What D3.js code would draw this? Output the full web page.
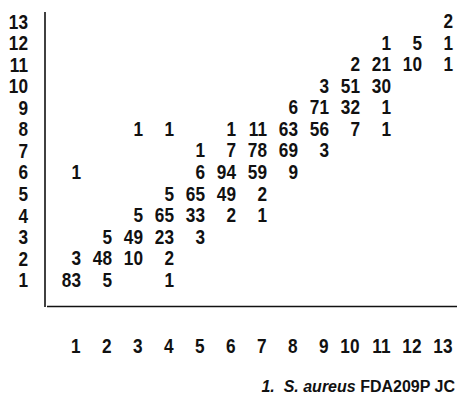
<!DOCTYPE html>
<html>
<head>
<meta charset="utf-8">
<script src="https://cdn.jsdelivr.net/npm/d3@7"></script>
<style>
  html, body { margin: 0; padding: 0; background: #fff; }
  svg { display: block; }
  .num { font-family: "Liberation Sans", Arial, sans-serif; font-weight: bold; font-size: 20.5px; fill: #111; }
  .title { font-family: "Liberation Sans", Arial, sans-serif; font-weight: bold; font-size: 16px; fill: #111; }
</style>
</head>
<body>
<svg id="chart" width="458" height="401"></svg>
<script>
// Scale positions (x) and rows (y), both numbered 1..13
const xTicks = [1, 2, 3, 4, 5, 6, 7, 8, 9, 10, 11, 12, 13];
const yTicks = [1, 2, 3, 4, 5, 6, 7, 8, 9, 10, 11, 12, 13];

// Counts per cell, one array per row: [x, count]
const row1  = [[1, 83], [2, 5], [4, 1]];
const row2  = [[1, 3], [2, 48], [3, 10], [4, 2]];
const row3  = [[2, 5], [3, 49], [4, 23], [5, 3]];
const row4  = [[3, 5], [4, 65], [5, 33], [6, 2], [7, 1]];
const row5  = [[4, 5], [5, 65], [6, 49], [7, 2]];
const row6  = [[1, 1], [5, 6], [6, 94], [7, 59], [8, 9]];
const row7  = [[5, 1], [6, 7], [7, 78], [8, 69], [9, 3]];
const row8  = [[3, 1], [4, 1], [6, 1], [7, 11], [8, 63], [9, 56], [10, 7], [11, 1]];
const row9  = [[8, 6], [9, 71], [10, 32], [11, 1]];
const row10 = [[9, 3], [10, 51], [11, 30]];
const row11 = [[10, 2], [11, 21], [12, 10], [13, 1]];
const row12 = [[11, 1], [12, 5], [13, 1]];
const row13 = [[13, 2]];

const rows = [row1, row2, row3, row4, row5, row6, row7, row8, row9, row10, row11, row12, row13];

const titleParts = [
  { text: "1.\u00a0 S. aureus", italic: true },
  { text: " FDA209P JC", italic: false }
];

const svg = d3.select("#chart");
const squeeze = 0.84; // narrow digit face

// Right edge of each column's numbers, and vertical centre of each row
const x = d3.scaleLinear().domain([1, 13]).range([81, 453]);
const y = d3.scaleLinear().domain([1, 13]).range([279.5, 20.7]);

const cells = rows.flatMap((r, i) => r.map(([cx, v]) => ({ row: i + 1, col: cx, value: v })));

// Axis frame
const axisX = 45, axisY = 306.5;
svg.append("line")
  .attr("x1", axisX).attr("x2", axisX)
  .attr("y1", 12).attr("y2", axisY + 0.5)
  .attr("stroke", "#111").attr("stroke-width", 1.6);
svg.append("line")
  .attr("x1", axisX + 2).attr("x2", 457)
  .attr("y1", axisY).attr("y2", axisY)
  .attr("stroke", "#111").attr("stroke-width", 1.4);

// Row labels
const yAxis = svg.append("g")
  .attr("transform", `translate(${axisX},0)`)
  .call(d3.axisLeft(y).tickValues(yTicks).tickSize(0).tickFormat(d3.format("d")));
yAxis.select(".domain").remove();
yAxis.selectAll("text")
  .attr("class", "num")
  .attr("text-anchor", "end")
  .attr("x", null).attr("dy", null).attr("y", null)
  .attr("transform", `translate(-17,7.3) scale(${squeeze},1)`);

// Column labels
const xAxis = svg.append("g")
  .attr("transform", `translate(0,${axisY})`)
  .call(d3.axisBottom(x).tickValues(xTicks).tickSize(0).tickFormat(d3.format("d")));
xAxis.select(".domain").remove();
xAxis.selectAll("text")
  .attr("class", "num")
  .attr("text-anchor", "end")
  .attr("x", null).attr("dy", null).attr("y", null)
  .attr("transform", `translate(-1,46) scale(${squeeze},1)`);

// Cell counts
svg.append("g").selectAll("text")
  .data(cells)
  .join("text")
  .attr("class", "num")
  .attr("text-anchor", "end")
  .attr("transform", d => `translate(${x(d.col)},${y(d.row) + 7.3}) scale(${squeeze},1)`)
  .text(d => d.value);

// Caption
const title = svg.append("text")
  .attr("class", "title")
  .attr("x", 455).attr("y", 392)
  .attr("text-anchor", "end");
title.selectAll("tspan")
  .data(titleParts)
  .join("tspan")
  .attr("font-style", d => d.italic ? "italic" : "normal")
  .text(d => d.text);
</script>
</body>
</html>
